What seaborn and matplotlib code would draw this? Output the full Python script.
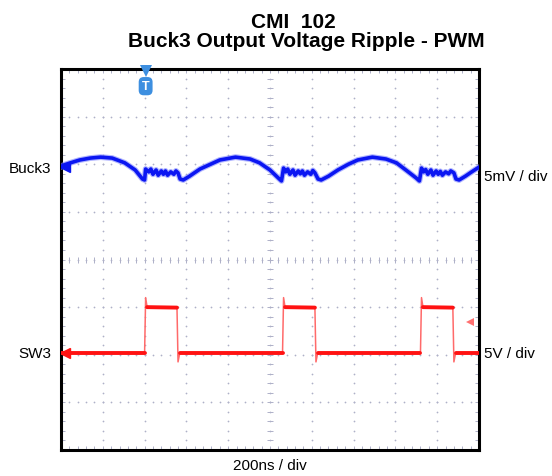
import numpy as np
import pandas as pd
import matplotlib
matplotlib.use("Agg")
import matplotlib.pyplot as plt
import seaborn as sns

# scope trace data: time in ns (200 ns / div), level in screen divisions
buck3_t = [0, 10, 45, 90, 140, 190, 245, 305, 355, 390, 400, 405,
           420, 430, 440, 455, 465, 480, 490, 500, 510, 525, 540, 550, 560,
           570, 585,
           615, 665, 715, 760, 835, 905, 950, 1000, 1045, 1055, 1065,
           1075, 1085, 1095, 1110, 1120, 1135, 1145, 1155, 1165, 1180, 1195, 1205, 1215,
           1230, 1245,
           1280, 1325, 1375, 1420, 1490, 1555, 1605, 1650, 1700, 1715, 1725,
           1735, 1745, 1755, 1770, 1780, 1795, 1805, 1815, 1825, 1840, 1855, 1865, 1880,
           1890, 1905, 1935, 1965, 2000]
buck3_y = [1.94, 1.98, 2.03, 2.09, 2.13, 2.15, 2.13, 2.03, 1.88, 1.69, 1.67, 1.90,
           1.84, 1.90, 1.79, 1.88, 1.77, 1.86, 1.79, 1.86, 1.77, 1.84, 1.79, 1.86, 1.82,
           1.69, 1.67,
           1.75, 1.90, 2.00, 2.09, 2.15, 2.11, 2.03, 1.88, 1.69, 1.65, 1.92,
           1.84, 1.90, 1.79, 1.88, 1.77, 1.86, 1.80, 1.86, 1.77, 1.84, 1.79, 1.87, 1.82,
           1.69, 1.67,
           1.75, 1.88, 2.00, 2.09, 2.15, 2.11, 2.03, 1.88, 1.71, 1.65, 1.92,
           1.84, 1.89, 1.79, 1.88, 1.77, 1.86, 1.79, 1.85, 1.77, 1.84, 1.80, 1.86, 1.82,
           1.69, 1.67, 1.75, 1.84, 1.94]

sw3_t = [0, 400, 405, 412, 555, 560, 568,
         1060, 1065, 1072, 1215, 1220, 1228,
         1720, 1725, 1732, 1875, 1880, 1888, 2000]
sw3_y = [-1.97, -1.97, -0.80, -1.00, -1.01, -2.15, -1.97,
         -1.97, -0.80, -1.00, -1.01, -2.15, -1.97,
         -1.97, -0.80, -1.00, -1.01, -2.15, -1.97, -1.97]

trigger_t = 405
trigger_level = -1.32
buck3_ref = 1.94
sw3_ref = -1.97

title_top = "CMI  102"
title_main = "Buck3 Output Voltage Ripple - PWM"

sns.set_theme(style="white")
plt.rcParams['font.family'] = ['Liberation Sans', 'DejaVu Sans']
plt.rcParams['text.color'] = 'black'

fig = plt.figure(figsize=(5.52, 4.77), dpi=100)
ax = fig.add_axes([0.1105, 0.0545, 0.7572, 0.7987])
ax.set_xlim(0, 2000)
ax.set_ylim(-4, 4)

# graticule: dotted lines and centre ticks
grid_col = '#aeb0c8'
for gx in range(200, 2000, 200):
    ys = np.arange(-4, 4.01, 0.2)
    ax.scatter(np.full(len(ys), gx), ys, s=1.6, color=grid_col, linewidths=0, zorder=1)
for gy in range(-3, 4):
    xs = np.arange(0, 2001, 40)
    ax.scatter(xs, np.full(len(xs), gy), s=1.6, color=grid_col, linewidths=0, zorder=1)
ax.plot(np.full(41, 1000), np.arange(-4, 4.01, 0.2), ls='none', marker='_',
        ms=4, mew=0.7, color=grid_col, zorder=1)
ax.plot(np.arange(0, 2001, 40), np.zeros(51), ls='none', marker='|',
        ms=4, mew=0.7, color=grid_col, zorder=1)

ax.set_xticks(np.arange(0, 2001, 200))
ax.set_xticks(np.arange(0, 2001, 40), minor=True)
ax.set_yticks(np.arange(-4, 5, 1))
ax.set_yticks(np.arange(-4, 4.01, 0.2), minor=True)
ax.tick_params(which='both', direction='in', top=True, right=True, bottom=True, left=True,
               length=3, width=0.7, color=grid_col,
               labelbottom=False, labelleft=False)
for sp in ax.spines.values():
    sp.set_linewidth(2.2)
    sp.set_color('black')

# traces
buck = pd.DataFrame({'t': buck3_t, 'y': buck3_y})
sns.lineplot(data=buck, x='t', y='y', sort=False, estimator=None, color='#7b82ff',
             lw=4.2, alpha=0.6, ax=ax, zorder=3)
sns.lineplot(data=buck, x='t', y='y', sort=False, estimator=None, color='#0b16f2',
             lw=2.6, ax=ax, zorder=3)

sw = pd.DataFrame({'t': sw3_t, 'y': sw3_y})
sw['seg'] = np.concatenate([[0], np.cumsum(np.abs(np.diff(sw['y'])) > 0.15)])
sns.lineplot(data=sw, x='t', y='y', sort=False, estimator=None, color='#ff6a6a',
             lw=1.1, ax=ax, zorder=3)
sns.lineplot(data=sw, x='t', y='y', units='seg', sort=False, estimator=None,
             color='#ff1212', lw=2.8, ax=ax, zorder=4)
ax.set_xlabel('')
ax.set_ylabel('')

# reference / trigger markers
ax.plot(20, buck3_ref, marker='<', ms=7, color='#0b16f2', zorder=5)
ax.plot(20, sw3_ref, marker='<', ms=7, color='#ff1212', zorder=5)
ax.plot(1957, trigger_level, marker='<', ms=6, color='#ff7070', mew=0, zorder=5)
ax.plot(trigger_t, 3.96, marker='v', ms=8, color='#3d8fe0', mew=0, zorder=5, clip_on=False)
ax.text(trigger_t, 3.64, 'T', ha='center', va='center', color='white', fontsize=9,
        fontweight='bold', zorder=6,
        bbox=dict(boxstyle='round,pad=0.25,rounding_size=0.4', fc='#3d8fe0', ec='none'))

# labels
fig.text(293 / 552, 1 - 28 / 477, title_top, ha='center', va='baseline',
         fontsize=15, fontweight='bold', color='black')
fig.text(306 / 552, 1 - 47 / 477, title_main, ha='center', va='baseline',
         fontsize=15, fontweight='bold', color='black')
fig.text(51 / 552, 1 - 169 / 477, 'Buck3', ha='right', va='center', fontsize=11)
fig.text(51 / 552, 1 - 354 / 477, 'SW3', ha='right', va='center', fontsize=11)
fig.text(484 / 552, 1 - 177 / 477, '5mV / div', ha='left', va='center', fontsize=11)
fig.text(484 / 552, 1 - 354 / 477, '5V / div', ha='left', va='center', fontsize=11)
fig.text(270 / 552, 1 - 466 / 477, '200ns / div', ha='center', va='center', fontsize=11)

fig.savefig('out.png', dpi=100)
